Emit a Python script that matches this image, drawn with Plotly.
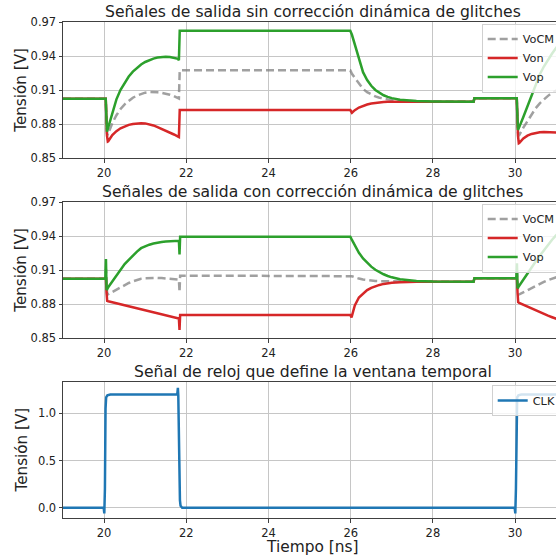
import plotly.graph_objects as go

# ---------------- data ----------------
x_ticks = [20, 22, 24, 26, 28, 30]
x_ticktext = ["20", "22", "24", "26", "28", "30"]
v_ticks = [0.85, 0.88, 0.91, 0.94, 0.97]
v_ticktext = ["0.85", "0.88", "0.91", "0.94", "0.97"]
clk_ticks = [0.0, 0.5, 1.0]
clk_ticktext = ["0.0", "0.5", "1.0"]

titles = ["Señales de salida sin corrección dinámica de glitches",
          "Señales de salida con corrección dinámica de glitches",
          "Señal de reloj que define la ventana temporal"]
ylabel = "Tensión [V]"
xlabel = "Tiempo [ns]"
series_names = ["VoCM", "Von", "Vop"]
clk_name = "CLK"

# Panel 1: without dynamic glitch correction
sin_t = [19.0, 20.04, 20.07, 20.09, 20.1, 20.2, 20.3, 20.4, 20.5, 20.6, 20.7, 20.8, 20.9, 21.0,
         21.1, 21.2, 21.3, 21.4, 21.5, 21.6, 21.7, 21.8, 21.82, 21.84, 23.0, 25.99, 26.03, 26.1,
         26.2, 26.3, 26.4, 26.5, 26.6, 26.7, 26.8, 26.9, 27.0, 27.2, 27.4, 27.6, 28.0, 28.99,
         29.01, 30.04, 30.07, 30.09, 30.1, 30.2, 30.3, 30.4, 30.5, 30.6, 30.7, 30.8, 30.9, 31.0, 31.2]
sin_vop = [0.9025, 0.9025, 0.8735, 0.8760, 0.8785, 0.8915, 0.9020, 0.9105, 0.9170, 0.9222, 0.9265,
           0.9300, 0.9328, 0.9350, 0.9367, 0.9380, 0.9389, 0.9394, 0.9396, 0.9394, 0.9388, 0.9378,
           0.9365, 0.9625, 0.9625, 0.9625, 0.9590, 0.9500, 0.9365, 0.9260, 0.9190, 0.9140, 0.9103,
           0.9076, 0.9056, 0.9042, 0.9031, 0.9017, 0.9009, 0.9005, 0.9002, 0.9000, 0.9030, 0.9030,
           0.8750, 0.8765, 0.8775, 0.8865, 0.8960, 0.9060, 0.9158, 0.9240, 0.9310, 0.9370, 0.9425,
           0.9475, 0.9560]
sin_von = [0.9025, 0.9025, 0.8700, 0.8648, 0.8650, 0.8705, 0.8740, 0.8765, 0.8782, 0.8795, 0.8803,
           0.8807, 0.8809, 0.8808, 0.8802, 0.8790, 0.8775, 0.8760, 0.8745, 0.8728, 0.8710, 0.8692,
           0.8688, 0.8926, 0.8926, 0.8926, 0.8902, 0.8925, 0.8948, 0.8964, 0.8975, 0.8983, 0.8989,
           0.8993, 0.8996, 0.8998, 0.8999, 0.9000, 0.9000, 0.9000, 0.9000, 0.9000, 0.9030, 0.9030,
           0.8700, 0.8633, 0.8635, 0.8675, 0.8700, 0.8715, 0.8725, 0.8730, 0.8732, 0.8732, 0.8730,
           0.8727, 0.8720]
sin_vcm = [0.9025, 0.9025, 0.8718, 0.8704, 0.8718, 0.8810, 0.8880, 0.8935, 0.8976, 0.9009, 0.9034,
           0.9054, 0.9069, 0.9079, 0.9085, 0.9085, 0.9082, 0.9077, 0.9071, 0.9061, 0.9049, 0.9035,
           0.9027, 0.9276, 0.9276, 0.9276, 0.9246, 0.9213, 0.9157, 0.9112, 0.9083, 0.9062, 0.9046,
           0.9035, 0.9026, 0.9020, 0.9015, 0.9008, 0.9005, 0.9003, 0.9001, 0.9000, 0.9030, 0.9030,
           0.8725, 0.8699, 0.8705, 0.8770, 0.8830, 0.8888, 0.8942, 0.8985, 0.9021, 0.9051, 0.9078,
           0.9101, 0.9140]

# Panel 2: with dynamic glitch correction
con_t = [19.0, 20.03, 20.045, 20.06, 20.075, 20.1, 20.2, 20.3, 20.4, 20.5, 20.6, 20.7, 20.8, 20.9,
         21.0, 21.1, 21.2, 21.3, 21.4, 21.5, 21.6, 21.7, 21.8, 21.82, 21.835, 21.85, 23.0, 25.99,
         26.02, 26.05, 26.1, 26.2, 26.3, 26.4, 26.5, 26.6, 26.7, 26.8, 26.9, 27.0, 27.2, 27.4, 27.6,
         28.0, 28.99, 29.01, 30.03, 30.045, 30.06, 30.075, 30.1, 30.2, 30.3, 30.4, 30.5, 30.6, 30.7,
         30.8, 30.9, 31.0, 31.2]
con_vop = [0.9025, 0.9025, 0.9200, 0.8926, 0.8935, 0.8950, 0.9000, 0.9060, 0.9110, 0.9155, 0.9192,
           0.9232, 0.9265, 0.9295, 0.9312, 0.9326, 0.9337, 0.9345, 0.9350, 0.9354, 0.9357, 0.9359,
           0.9361, 0.9361, 0.9240, 0.9397, 0.9397, 0.9397, 0.9375, 0.9355, 0.9318, 0.9255, 0.9205,
           0.9165, 0.9132, 0.9105, 0.9083, 0.9065, 0.9050, 0.9038, 0.9022, 0.9012, 0.9006, 0.9002,
           0.9000, 0.9030, 0.9030, 0.9162, 0.8941, 0.8950, 0.8963, 0.9019, 0.9075, 0.9127, 0.9178,
           0.9228, 0.9278, 0.9328, 0.9370, 0.9410, 0.9480]
con_von = [0.9025, 0.9025, 0.9025, 0.8900, 0.8830, 0.8827, 0.8818, 0.8809, 0.8800, 0.8791, 0.8783,
           0.8774, 0.8765, 0.8756, 0.8747, 0.8738, 0.8729, 0.8720, 0.8711, 0.8702, 0.8693, 0.8684,
           0.8676, 0.8674, 0.8573, 0.8706, 0.8706, 0.8706, 0.8685, 0.8730, 0.8790, 0.8860, 0.8897,
           0.8925, 0.8945, 0.8960, 0.8971, 0.8980, 0.8986, 0.8990, 0.8995, 0.8998, 0.8999, 0.9000,
           0.9000, 0.9030, 0.9030, 0.9030, 0.8900, 0.8820, 0.8812, 0.8795, 0.8778, 0.8762, 0.8746,
           0.8730, 0.8715, 0.8700, 0.8686, 0.8672, 0.8645]
con_vcm = [0.9025, 0.9025, 0.9110, 0.8913, 0.8883, 0.8889, 0.8909, 0.8935, 0.8955, 0.8973, 0.8988,
           0.9003, 0.9015, 0.9026, 0.9030, 0.9032, 0.9033, 0.9033, 0.9031, 0.9028, 0.9025, 0.9022,
           0.9019, 0.9018, 0.8907, 0.9052, 0.9052, 0.9052, 0.9048, 0.9045, 0.9038, 0.9027, 0.9019,
           0.9013, 0.9009, 0.9006, 0.9004, 0.9003, 0.9002, 0.9001, 0.9000, 0.9000, 0.9000, 0.9000,
           0.9000, 0.9030, 0.9030, 0.9096, 0.8921, 0.8885, 0.8888, 0.8907, 0.8927, 0.8945, 0.8962,
           0.8979, 0.8997, 0.9014, 0.9028, 0.9041, 0.9063]

# Panel 3: clock
clk_t = [19.0, 19.99, 20.005, 20.02, 20.035, 20.05, 20.08, 20.15, 21.78, 21.795, 21.805, 21.815,
         21.83, 21.845, 21.86, 21.9, 29.99, 30.005, 30.02, 30.035, 30.05, 30.08, 30.15, 31.2]
clk_v = [0.0, 0.0, -0.06, 0.2, 1.05, 1.17, 1.19, 1.2, 1.2, 1.27, 1.19, 0.9, 0.35, 0.08, 0.02, 0.0,
         0.0, -0.06, 0.2, 1.05, 1.17, 1.19, 1.2, 1.2]

# ---------------- styling ----------------
FONT = "DejaVu Sans"
W, H = 556, 558
L = 63
PW = W - L
GREY = "rgba(128,128,128,0.75)"
RED = "#d62728"
GREEN = "#2ca02c"
BLUE = "#1f77b4"
GRID = "#c6c6c6"
SPINE = "#404040"
TXT = "#222222"
LW = 2.5


def py(px):
    return 1 - px / H


def px_x(px):
    return (px - L) / PW


panels = [(22.3, 158.3), (202.3, 338.3), (381.7, 518.3)]

fig = go.Figure()

sets = [(sin_t, sin_vcm, sin_von, sin_vop, "x", "y", "legend"),
        (con_t, con_vcm, con_von, con_vop, "x2", "y2", "legend2")]
for t, vcm, von, vop, xa, ya, lg in sets:
    fig.add_trace(go.Scatter(x=t, y=vcm, mode="lines", name=series_names[0], xaxis=xa, yaxis=ya,
                             legend=lg, line=dict(color=GREY, width=LW, dash="8px,4px")))
    fig.add_trace(go.Scatter(x=t, y=von, mode="lines", name=series_names[1], xaxis=xa, yaxis=ya,
                             legend=lg, line=dict(color=RED, width=LW)))
    fig.add_trace(go.Scatter(x=t, y=vop, mode="lines", name=series_names[2], xaxis=xa, yaxis=ya,
                             legend=lg, line=dict(color=GREEN, width=LW)))

fig.add_trace(go.Scatter(x=clk_t, y=clk_v, mode="lines", name=clk_name, xaxis="x3", yaxis="y3",
                         legend="legend3", line=dict(color=BLUE, width=LW)))

xcommon = dict(range=[19, 30.995], tickvals=x_ticks, ticktext=x_ticktext, showgrid=True,
               gridcolor=GRID, gridwidth=1, showline=True, linecolor=SPINE, linewidth=1,
               mirror=True, ticks="outside", ticklen=3.5, tickcolor=SPINE, zeroline=False,
               automargin=False,
               tickfont=dict(family=FONT, size=11.5, color=TXT), domain=[0, 1])
ycommon = dict(showgrid=True, gridcolor=GRID, gridwidth=1, showline=True, linecolor=SPINE,
               linewidth=1, mirror=False, ticks="outside", ticklen=3.5, tickcolor=SPINE,
               zeroline=False, automargin=False, tickfont=dict(family=FONT, size=11.5, color=TXT))

layout = dict(width=W, height=H, margin=dict(l=L, r=0, t=0, b=0, autoexpand=False),
              paper_bgcolor="white", plot_bgcolor="white", showlegend=True)

for i, (top, bot) in enumerate(panels):
    sfx = "" if i == 0 else str(i + 1)
    layout["xaxis" + sfx] = dict(xcommon, anchor="y" + sfx)
    yd = dict(ycommon, anchor="x" + sfx, domain=[py(bot), py(top)])
    if i < 2:
        yd.update(range=[0.85, 0.97], tickvals=v_ticks, ticktext=v_ticktext)
    else:
        yd.update(range=[-0.112, 1.335], tickvals=clk_ticks, ticktext=clk_ticktext)
    layout["yaxis" + sfx] = yd

legcommon = dict(bgcolor="rgba(255,255,255,0.8)", bordercolor="#d0d0d0", borderwidth=1,
                 font=dict(family=FONT, size=11.3, color=TXT), xanchor="left", yanchor="top",
                 tracegroupgap=0, itemclick=False, itemdoubleclick=False)
layout["legend"] = dict(legcommon, x=px_x(481.7), y=py(23.5))
layout["legend2"] = dict(legcommon, x=px_x(481.7), y=py(203.5))
layout["legend3"] = dict(legcommon, x=px_x(491.7), y=py(385.0))

ann = []
title_y = [12.0, 192.0, 372.2]
for ttl, ty in zip(titles, title_y):
    ann.append(dict(text=ttl, xref="paper", yref="paper", x=px_x(312.5), y=py(ty),
                    xanchor="center", yanchor="middle", showarrow=False,
                    font=dict(family=FONT, size=15.6, color=TXT)))
for top, bot in panels:
    ann.append(dict(text=ylabel, xref="paper", yref="paper", x=px_x(21.5),
                    y=py((top + bot) / 2), xanchor="center", yanchor="middle", textangle=-90,
                    showarrow=False, font=dict(family=FONT, size=15.2, color=TXT)))
ann.append(dict(text=xlabel, xref="paper", yref="paper", x=px_x(312.5), y=py(546.5),
                xanchor="center", yanchor="middle", showarrow=False,
                font=dict(family=FONT, size=15.4, color=TXT)))
layout["annotations"] = ann

fig.update_layout(**layout)
fig.write_html("out.html", config={"displayModeBar": False},
               post_script="document.body.style.margin='0';document.body.style.padding='0';"
                           "document.body.style.overflow='hidden';")
